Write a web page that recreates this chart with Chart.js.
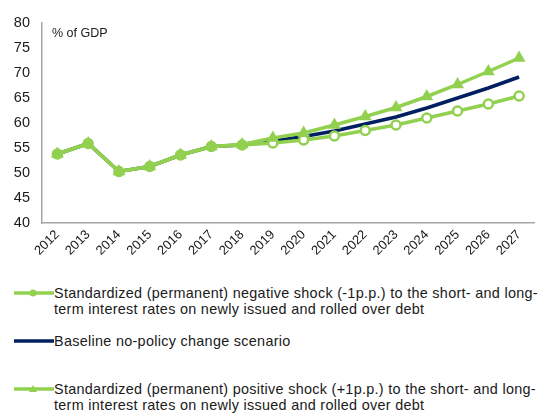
<!DOCTYPE html>
<html>
<head>
<meta charset="utf-8">
<script src="https://cdn.jsdelivr.net/npm/chart.js@4"></script>
<style>
  body { margin: 0; background: #fff; font-family: "Liberation Sans", Arial, sans-serif; }
  #wrap { position: absolute; left: 0; top: 0; width: 542px; height: 272px; }
  .item { position: absolute; left: 14px; width: 528px; padding-left: 40px; box-sizing: border-box;
          color: #1a1a1a; font-size: 14.4px; line-height: 16px; letter-spacing: 0.3px; }
  .item svg { position: absolute; left: 0; top: 3px; }
</style>
</head>
<body>
<div id="wrap"><canvas id="chart" width="542" height="272"></canvas></div>
<div class="item" style="top:285px">
  <svg width="40" height="10"><line x1="0" y1="5" x2="40" y2="5" stroke="#92d050" stroke-width="3.5"/><circle cx="19" cy="5" r="3.5" fill="#92d050"/></svg>
  Standardized (permanent) negative shock (-1p.p.) to the short- and long-term interest rates on newly issued and rolled over debt
</div>
<div class="item" style="top:333px">
  <svg width="40" height="10"><line x1="0" y1="5" x2="40" y2="5" stroke="#002060" stroke-width="3.5"/></svg>
  Baseline no-policy change scenario
</div>
<div class="item" style="top:381px">
  <svg width="40" height="10"><line x1="0" y1="5" x2="40" y2="5" stroke="#92d050" stroke-width="3.5"/><path d="M19 1 L23 8 L15 8 Z" fill="#92d050"/></svg>
  Standardized (permanent) positive shock (+1p.p.) to the short- and long-term interest rates on newly issued and rolled over debt
</div>
<script>
// debt ratio, % of GDP
var years = ["2012","2013","2014","2015","2016","2017","2018","2019","2020","2021","2022","2023","2024","2025","2026","2027"];
var negativeShock = [53.8, 55.9, 50.3, 51.3, 53.6, 55.3, 55.6, 56.0, 56.6, 57.4, 58.5, 59.6, 61.0, 62.4, 63.8, 65.4];
var baseline      = [53.8, 55.9, 50.3, 51.3, 53.6, 55.3, 55.6, 56.4, 57.3, 58.4, 59.8, 61.2, 63.0, 65.0, 67.0, 69.2];
var positiveShock = [53.8, 55.9, 50.3, 51.3, 53.6, 55.3, 55.7, 57.0, 58.0, 59.6, 61.3, 63.1, 65.3, 67.7, 70.3, 73.0];
var yTicks = [40, 45, 50, 55, 60, 65, 70, 75, 80];

var green = "#92d050";
var navy = "#002060";

// "% of GDP" label inside plot
var unitLabel = {
    id: "unitLabel",
    afterDraw(chart) {
        const ctx = chart.ctx;
        ctx.save();
        ctx.font = "12.5px 'Liberation Sans', Arial";
        ctx.fillStyle = "#1a1a1a";
        ctx.textBaseline = "middle";
        ctx.fillText("% of GDP", chart.chartArea.left + 10, chart.chartArea.top + 11);
        ctx.restore();
    }
};

const ctx = document.getElementById("chart").getContext("2d");

new Chart(ctx, {
    type: "line",
    data: {
        labels: years,
        datasets: [
            {
                label: "Standardized (permanent) positive shock (+1p.p.) to the short- and long-term interest rates on newly issued and rolled over debt",
                data: positiveShock,
                borderColor: green,
                backgroundColor: green,
                borderWidth: 3.5,
                pointStyle: "triangle",
                pointRadius: 7.5,
                pointBorderWidth: 0,
                tension: 0
            },
            {
                label: "Standardized (permanent) negative shock (-1p.p.) to the short- and long-term interest rates on newly issued and rolled over debt",
                data: negativeShock,
                borderColor: green,
                backgroundColor: "#ffffff",
                borderWidth: 3.5,
                pointStyle: "circle",
                pointRadius: 4.5,
                pointBorderWidth: 2.5,
                pointBorderColor: green,
                tension: 0
            },
            {
                label: "Baseline no-policy change scenario",
                data: baseline,
                borderColor: navy,
                borderWidth: 3.5,
                pointRadius: 0,
                tension: 0
            }
        ]
    },
    options: {
        responsive: false,
        animation: false,
        layout: { padding: { top: 23, right: 2, left: 0, bottom: 0 } },
        scales: {
            x: {
                offset: true,
                afterFit: function(axis) { axis.height = 49; },
                grid: { display: false, drawTicks: false },
                border: { color: "#a6a6a6", width: 1.5 },
                ticks: {
                    minRotation: 45,
                    maxRotation: 45,
                    padding: 4,
                    color: "#1a1a1a",
                    font: { family: "'Liberation Sans', Arial", size: 13 }
                }
            },
            y: {
                min: 40,
                max: 80,
                afterBuildTicks: function(axis) {
                    axis.ticks = yTicks.map(v => ({ value: v }));
                },
                afterFit: function(axis) { axis.width = 42; },
                grid: { display: false, drawTicks: false },
                border: { color: "#a6a6a6", width: 1.5 },
                ticks: {
                    padding: 12,
                    color: "#1a1a1a",
                    font: { family: "'Liberation Sans', Arial", size: 14.5 }
                }
            }
        },
        plugins: {
            legend: { display: false },
            tooltip: { enabled: false }
        }
    },
    plugins: [unitLabel]
});
</script>
</body>
</html>
